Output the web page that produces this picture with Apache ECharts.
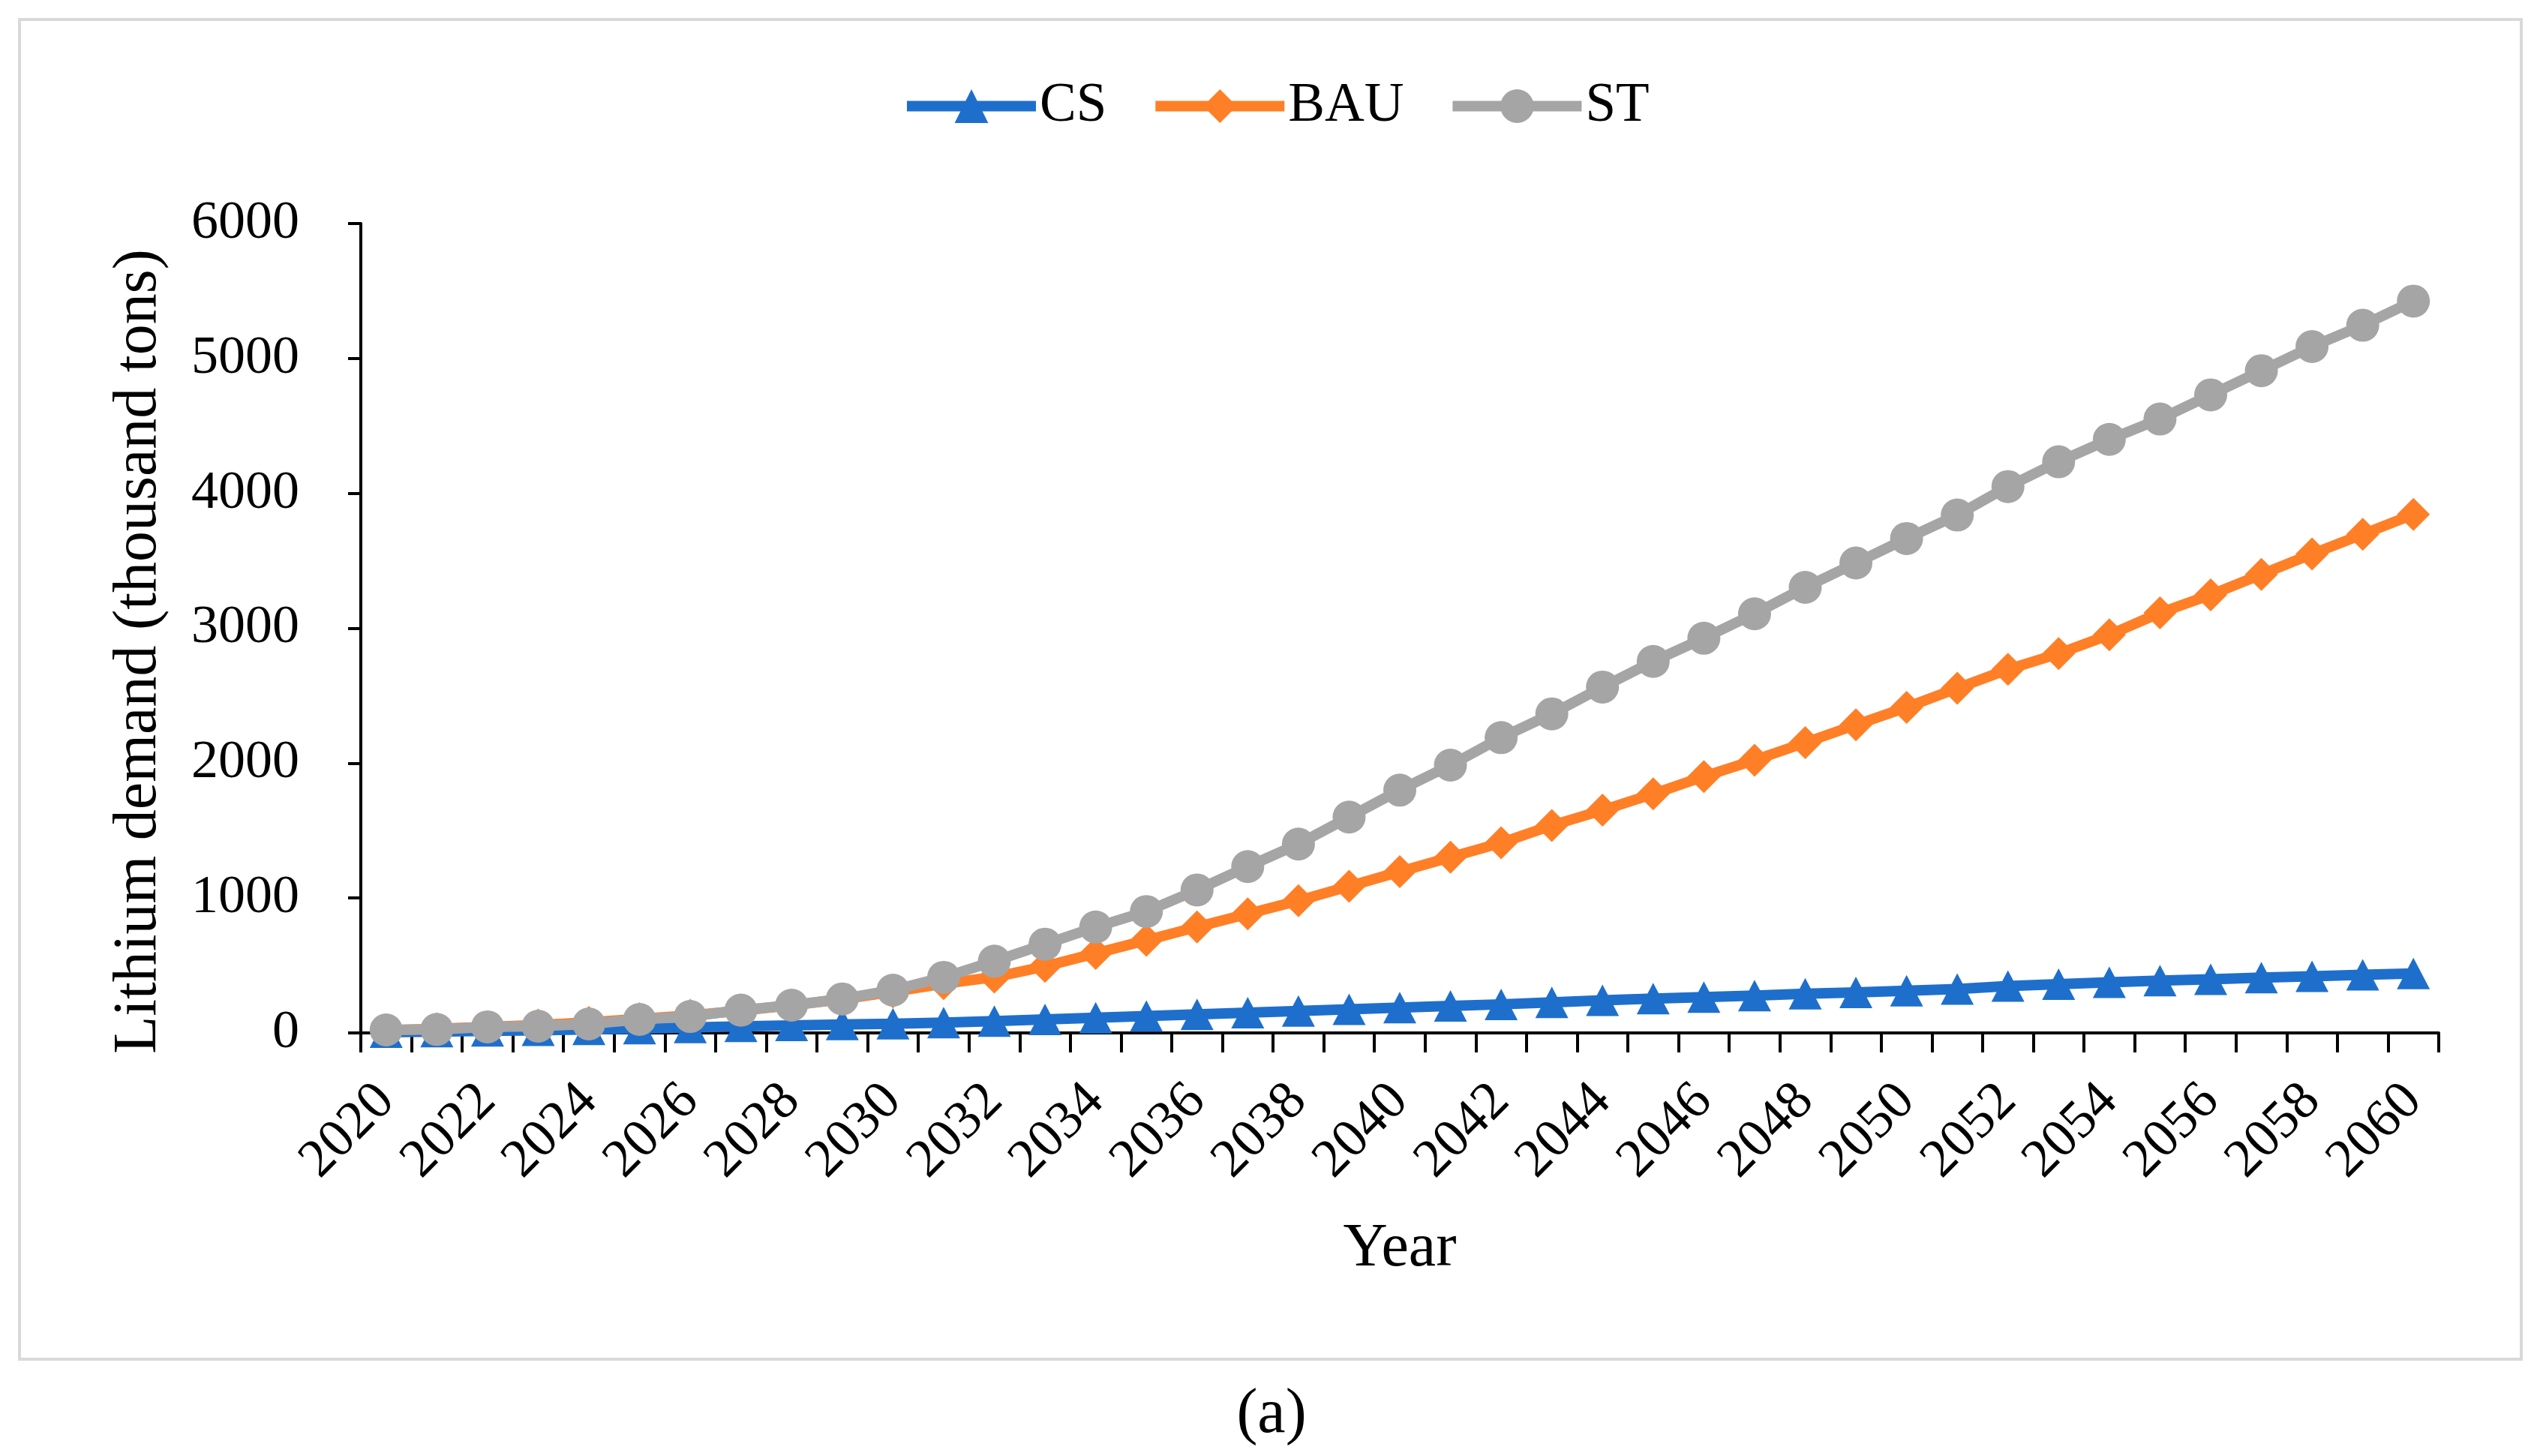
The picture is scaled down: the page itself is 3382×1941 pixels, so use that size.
<!DOCTYPE html>
<html>
<head>
<meta charset="utf-8">
<script src="https://cdn.jsdelivr.net/npm/echarts@6/dist/echarts.min.js"></script>
<style>
  html, body { margin: 0; padding: 0; background: #ffffff; }
  #chart { width: 3382px; height: 1941px; }
</style>
</head>
<body>
<div id="chart"></div>
<script>
// ---- data ----
const years = ['2020','2021','2022','2023','2024','2025','2026','2027','2028','2029',
  '2030','2031','2032','2033','2034','2035','2036','2037','2038','2039',
  '2040','2041','2042','2043','2044','2045','2046','2047','2048','2049',
  '2050','2051','2052','2053','2054','2055','2056','2057','2058','2059','2060'];

const csValues = [5, 10, 15, 20, 26, 32, 40, 48, 55, 62,
  68, 76, 88, 100, 112, 125, 138, 150, 162, 175,
  188, 200, 212, 226, 242, 254, 266, 276, 290, 300,
  313, 325, 348, 362, 375, 388, 398, 410, 420, 431, 441];

const bauValues = [20, 30, 45, 58, 78, 105, 130, 165, 205, 250,
  305, 365, 414, 493, 590, 687, 785, 883, 980, 1087,
  1195, 1302, 1409, 1538, 1651, 1772, 1901, 2022, 2152, 2284,
  2414, 2555, 2695, 2812, 2951, 3114, 3248, 3399, 3550, 3697, 3844];

const stValues = [22, 26, 45, 50, 67, 100, 122, 169, 206, 252,
  317, 412, 532, 658, 785, 900, 1060, 1233, 1400, 1600,
  1800, 1985, 2189, 2365, 2564, 2754, 2926, 3107, 3303, 3484,
  3665, 3839, 4050, 4234, 4400, 4551, 4730, 4909, 5088, 5246, 5425];

const seriesNames = ['CS', 'BAU', 'ST'];
const yTicks = { min: 0, max: 6000, interval: 1000 };

// ---- chart ----
const FONT = "'Liberation Serif', 'Times New Roman', serif";
const colors = { CS: '#1E6FCC', BAU: '#FF7F27', ST: '#A5A5A5' };

const chart = echarts.init(document.getElementById('chart'));

function mkSeries(name, data, symbol, size) {
  return {
    name: name,
    type: 'line',
    data: data,
    symbol: symbol,
    symbolSize: size,
    showSymbol: true,
    smooth: false,
    lineStyle: { width: 14, color: colors[name] },
    itemStyle: { color: colors[name], borderWidth: 0 },
    emphasis: { disabled: true },
    z: 2
  };
}

chart.setOption({
  animation: false,
  backgroundColor: '#ffffff',
  grid: { left: 481, right: 131, top: 298, bottom: 564, containLabel: false },
  legend: {
    data: seriesNames,
    left: 1197,
    top: 100,
    itemWidth: 172,
    itemHeight: 56,
    itemGap: 58,
    lineStyle: { width: 14 },
    textStyle: { fontFamily: FONT, fontSize: 73, color: '#000000' }
  },
  xAxis: {
    type: 'category',
    data: years,
    boundaryGap: true,
    name: 'Year',
    nameLocation: 'middle',
    nameGap: 247,
    nameTextStyle: { fontFamily: FONT, fontSize: 82, color: '#000000' },
    axisLine: { show: true, lineStyle: { color: '#000000', width: 4 } },
    axisTick: { show: true, interval: 0, length: 26, lineStyle: { color: '#000000', width: 4 } },
    axisLabel: {
      interval: 1,
      rotate: 45,
      margin: 80,
      fontFamily: FONT,
      fontSize: 72,
      color: '#000000'
    },
    splitLine: { show: false }
  },
  yAxis: {
    type: 'value',
    min: yTicks.min,
    max: yTicks.max,
    interval: yTicks.interval,
    name: 'Lithium demand (thousand tons)',
    nameLocation: 'middle',
    nameGap: 255,
    nameTextStyle: { fontFamily: FONT, fontSize: 82, color: '#000000', padding: [0, 62, 0, 0] },
    axisLine: { show: true, lineStyle: { color: '#000000', width: 4 } },
    axisTick: { show: true, length: 17, lineStyle: { color: '#000000', width: 4 } },
    axisLabel: {
      margin: 82, fontFamily: FONT, fontSize: 72, color: '#000000',
      formatter: function (v) { return String(v); }
    },
    splitLine: { show: false }
  },
  series: [
    mkSeries('CS', csValues, 'triangle', [44, 42]),
    mkSeries('BAU', bauValues, 'diamond', [44, 44]),
    mkSeries('ST', stValues, 'circle', 44)
  ],
  graphic: [
    {
      type: 'rect',
      shape: { x: 26, y: 26, width: 3335, height: 1786 },
      style: { fill: 'none', stroke: '#D9D9D9', lineWidth: 4 },
      z: -1
    },
    {
      type: 'text',
      x: 1695,
      y: 1887,
      style: {
        text: '(a)',
        fontFamily: FONT,
        fontSize: 84,
        fill: '#000000',
        textAlign: 'center',
        textVerticalAlign: 'middle'
      }
    }
  ]
});
</script>
</body>
</html>
